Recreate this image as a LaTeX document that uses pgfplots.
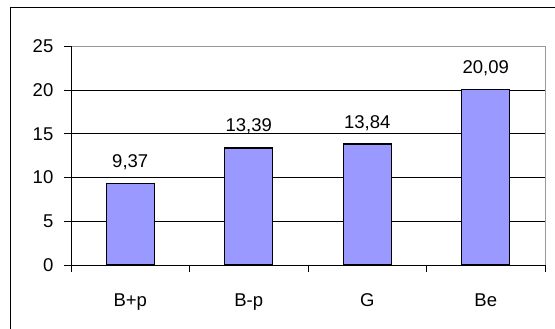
\documentclass[border=0pt]{standalone}
\usepackage{fontspec}
\setmainfont{Liberation Sans}
\usepackage{pgfplots}
\pgfplotsset{compat=1.18}
\definecolor{barblue}{HTML}{9999FF}
\begin{document}
\begin{tikzpicture}[x=1pt,y=1pt]
\path[use as bounding box] (0,0) rectangle (555,329);
% chart area frame
\draw[line width=1pt] (10,-2) -- (10,321) -- (557,321);
\begin{axis}[
  at={(71pt,64pt)}, anchor=south west,
  scale only axis,
  width=474pt, height=218.5pt,
  xmin=0.5, xmax=4.5,
  ymin=0, ymax=25,
  ytick={0,5,...,25},
  xtick={1,2,3,4},
  xticklabels={B+p,B-p,G,Be},
  minor xtick={0.5,1.5,...,4.5},
  xtick pos=bottom, ytick pos=left,
  major x tick style={draw=none},
  tick align=outside,
  major tick length=7pt,
  minor tick length=7pt,
  tick style={black, line width=0.8pt},
  axis line style={draw=none},
  extra y ticks={5,10,15,20},
  extra y tick labels={},
  extra y tick style={grid=major, major tick length=0pt},
  grid style={black, line width=0.8pt},
  /pgf/number format/assume math mode=true,
  ticklabel style={font=\fontsize{18.5}{22}\selectfont},
  yticklabel style={anchor=east, inner sep=0pt, xshift=-10.5pt},
  xticklabel style={anchor=base, inner sep=0pt, yshift=-34.5pt},
  ybar, bar width=48pt,
  clip=false,
  nodes near coords,
  nodes near coords style={
    font=\fontsize{18.5}{22}\selectfont,
    /pgf/number format/fixed,
    /pgf/number format/fixed zerofill,
    /pgf/number format/precision=2,
    /pgf/number format/use comma,
    anchor=base, inner sep=0pt, yshift=16pt,
  },
]
\addplot[fill=barblue, draw=black, line width=1.2pt] coordinates {
  (1,9.37) (2,13.39) (3,13.84) (4,20.09)
};
\draw[gray!80, line width=0.8pt] (rel axis cs:0,1) -- (rel axis cs:1,1) -- (rel axis cs:1,0);
\draw[black, line width=0.9pt] (rel axis cs:0,1) -- (rel axis cs:0,0) -- (rel axis cs:1,0);
\end{axis}
\end{tikzpicture}
\end{document}
